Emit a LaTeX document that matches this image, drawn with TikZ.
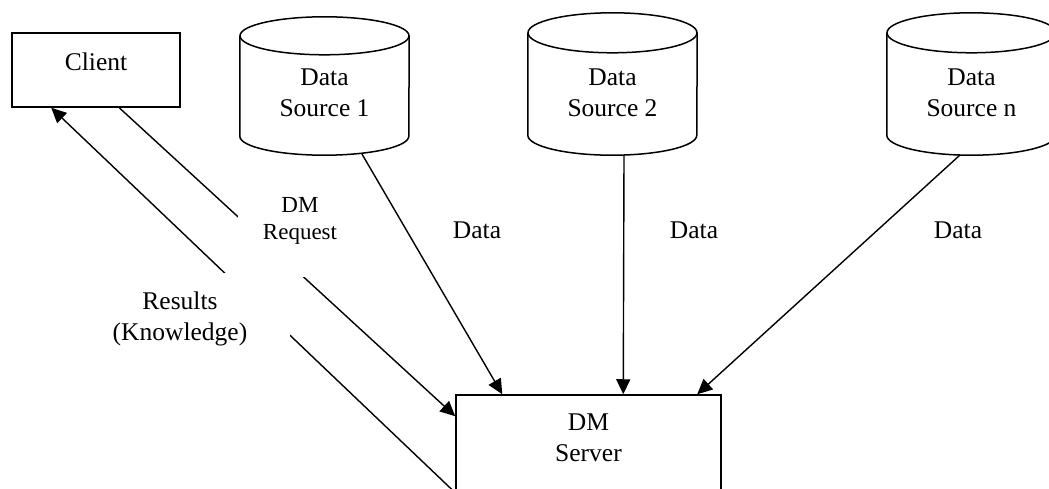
\documentclass[tikz,border=0pt]{standalone}
\usepackage{fontspec}
\setmainfont{Liberation Serif}
\usetikzlibrary{arrows.meta}
\begin{document}
\begin{tikzpicture}[x=1pt,y=1pt,
  box/.style={draw, line width=1.5pt, inner sep=0pt},
  cylbody/.style={inner sep=0pt, minimum width=169pt},
  cyledge/.style={line width=1.5pt},
  maintext/.style={font=\fontsize{25.5}{31}\selectfont, align=center, inner sep=0pt},
  smalltext/.style={font=\fontsize{23}{27}\selectfont, align=center, inner sep=0pt},
  arr/.style={-{Triangle[length=15pt,width=14pt]}, line width=1.4pt},
  mask/.style={fill=white, inner sep=0pt}]
\clip (0,0) rectangle (1049,488);
\fill[white] (0,0) rectangle (1049,488);

% Client
\node[box, minimum width=168pt, minimum height=74pt,
      label={[maintext, yshift=8pt]center:Client}] (client) at (96,418) {};

% Data sources (cylinders)
\node[cylbody, minimum height=100pt,
      label={[maintext, yshift=-6.5pt]center:{Data\\Source 1}}] (ds1) at (324.5,402) {};
\node[cylbody, minimum height=102pt,
      label={[maintext, yshift=-8.5pt]center:{Data\\Source 2}}] (ds2) at (612.5,404) {};
\node[cylbody, minimum height=102pt,
      label={[maintext, yshift=-8.5pt]center:{Data\\Source n}}] (dsn) at (971.5,404) {};
\foreach \c/\ry in {ds1/19, ds2/20, dsn/20} {
  \draw[cyledge] (\c.north west) -- (\c.south west)
      arc[start angle=180, end angle=360, x radius=84.5, y radius=\ry] -- (\c.north east);
  \draw[cyledge] (\c.north) ellipse[x radius=84.5, y radius=\ry];
}

% DM Server
\node[box, minimum width=265pt, minimum height=100pt,
      label={[maintext, yshift=7pt]center:{DM\\Server}}] (server) at (588.5,43) {};

% Connectors
\draw[arr] ([shift={(37.5,-17.9)}]ds1.south) -- ([xshift=47pt]server.north west);
\draw[arr] ([shift={(11.5,-19.8)}]ds2.south) -- ([xshift=168pt]server.north west);
\draw[arr] ([shift={(-11.5,-19.8)}]dsn.south) -- ([xshift=242pt]server.north west);
\draw[arr] ([xshift=108pt]client.south west) -- ([yshift=-22pt]server.north west);
\draw[arr] ([yshift=3pt]server.south west) -- ([xshift=40pt]client.south west);

% Connector labels (white text boxes)
\node[mask, smalltext, minimum width=124pt, minimum height=112pt] (req) at (300,267) {DM\\Request};
\node[mask, maintext, minimum width=220pt, minimum height=92pt] (res) at (180,169) {Results\\(Knowledge)};
\node[maintext] (d1) at (477,258) {Data};
\node[maintext] (d2) at (694,258) {Data};
\node[maintext] (d3) at (958,258) {Data};
\end{tikzpicture}
\end{document}
